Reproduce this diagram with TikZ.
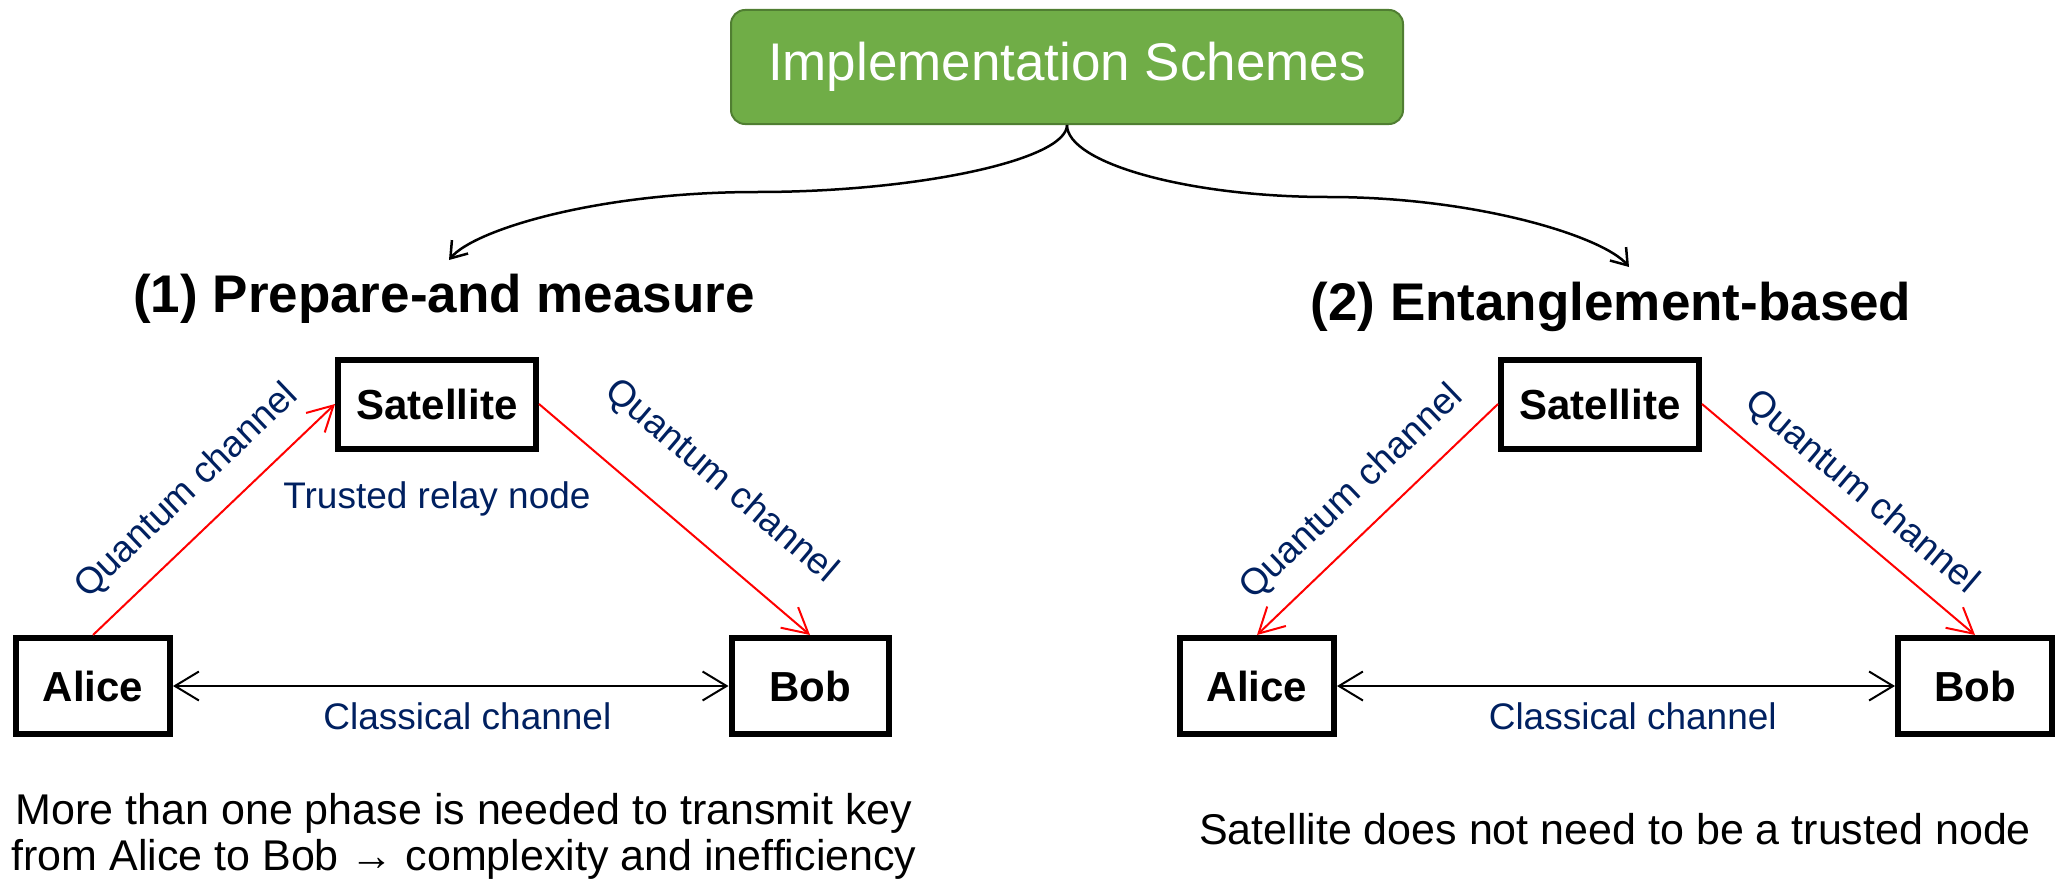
\documentclass[tikz,border=0pt]{standalone}
\usepackage{fontspec}
\setmainfont{Liberation Sans}
\usepackage{xcolor}
\usepackage{tikz}
\usetikzlibrary{arrows.meta,positioning}
\definecolor{rootgreen}{RGB}{112,173,71}
\definecolor{rootedge}{RGB}{80,126,50}
\definecolor{chnavy}{RGB}{0,32,96}

\begin{document}
\begin{tikzpicture}[x=1pt, y=1pt,
  root/.style={draw=rootedge, line width=2pt, fill=rootgreen, rounded corners=14pt,
    minimum width=672pt, minimum height=114pt, text=white,
    font=\fontsize{53}{60}\selectfont},
  scheme/.style={font=\fontsize{53}{60}\selectfont\bfseries},
  party/.style={draw, line width=6pt, minimum width=154pt, minimum height=96pt,
    font=\fontsize{42}{48}\selectfont\bfseries},
  sat/.style={party, minimum width=198pt, minimum height=89pt},
  branch/.style={line width=2.5pt, -{Straight Barb[length=15pt,width=21pt]}},
  qlink/.style={red, line width=2pt, -{Straight Barb[length=25pt,width=27pt]}},
  clink/.style={line width=2pt, {Straight Barb[length=24pt,width=29pt]}-{Straight Barb[length=24pt,width=29pt]}},
  chan/.style={text=chnavy, font=\fontsize{37}{42}\selectfont},
  note/.style={font=\fontsize{43}{46}\selectfont, align=center},
]
  \useasboundingbox (0,0) rectangle (2056,-883);

  % --- root box and the two branches ---------------------------------
  \node[root] (root) at (1067,-67) {Implementation Schemes};
  \node[scheme] (pm) at (444,-299) {(1) Prepare-and measure};
  \node[scheme] (eb) at (1611,-307) {(2) Entanglement-based};
  \coordinate (pmtip) at (449,-260);
  \coordinate (ebtip) at (1629,-267);
  \draw[branch] (root.south) .. controls +(0,-35) and +(160,0) .. (757,-192)
    .. controls +(-160,0) and +(25,30) .. (pmtip);
  \draw[branch] (root.south) .. controls +(0,-38) and +(-140,0) .. (1328,-197)
    .. controls +(150,0) and +(-25,30) .. (ebtip);

  % --- prepare-and-measure, left -------------------------------------
  \node[sat] (satL) at (437,-404) {Satellite};
  \node[party] (aliceL) at (93,-686) {Alice};
  \node[party, minimum width=157pt] (bobL) at (810,-686) {Bob};
  \node[chan, below=27pt of satL] (relay) {Trusted relay node};
  \draw[qlink] (aliceL.north) -- node[chan, midway, sloped, above=18pt] {Quantum channel} (satL.west);
  \draw[qlink] (satL.east) -- node[chan, pos=0.53, sloped, above=38pt] {Quantum channel} (bobL.north);
  \draw[clink] (aliceL) -- node[chan, pos=0.53, below=12pt] {Classical channel} (bobL);
  \node[note] (noteL) at (464,-836) {More than one phase is needed to transmit key\\
    from Alice to Bob → complexity and inefficiency};

  % --- entanglement-based, right -------------------------------------
  \node[sat] (satR) at (1600,-404) {Satellite};
  \node[party] (aliceR) at (1257,-686) {Alice};
  \node[party] (bobR) at (1975,-686) {Bob};
  \draw[qlink] (satR.west) -- node[chan, midway, sloped, above=16pt] {Quantum channel} (aliceR.north);
  \draw[qlink] (satR.east) -- node[chan, midway, sloped, above=14pt] {Quantum channel} (bobR.north);
  \draw[clink] (aliceR) -- node[chan, pos=0.53, below=12pt] {Classical channel} (bobR);
  \node[note] (noteR) at (1615,-829) {Satellite does not need to be a trusted node};
\end{tikzpicture}
\end{document}
